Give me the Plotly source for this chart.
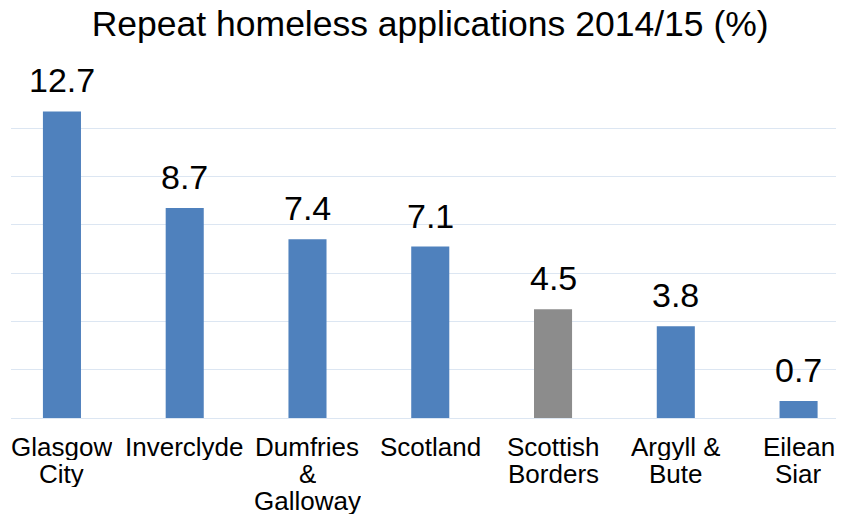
import plotly.graph_objects as go

categories = ["Glasgow City", "Inverclyde", "Dumfries & Galloway", "Scotland",
              "Scottish Borders", "Argyll & Bute", "Eilean Siar"]
label_lines = [["Glasgow", "City"], ["Inverclyde"], ["Dumfries", "&", "Galloway"],
               ["Scotland"], ["Scottish", "Borders"], ["Argyll &", "Bute"], ["Eilean", "Siar"]]
values = [12.7, 8.7, 7.4, 7.1, 4.5, 3.8, 0.7]
colors = ["#4F81BD", "#4F81BD", "#4F81BD", "#4F81BD", "#8C8C8C", "#4F81BD", "#4F81BD"]

FONT = "Liberation Sans, Arial, sans-serif"
xs = list(range(len(categories)))

fig = go.Figure(go.Bar(x=xs, y=values, marker_color=colors, width=0.31,
                       marker_line_width=0, hoverinfo="skip"))

ann = []
for i, v in enumerate(values):
    ann.append(dict(x=i, y=v, xref="x", yref="y", text=f"{v:.1f}", showarrow=False,
                    yanchor="bottom", yshift=10, font=dict(family=FONT, size=34, color="#000")))
for i, lines in enumerate(label_lines):
    for j, t in enumerate(lines):
        ann.append(dict(x=i, y=0, xref="x", yref="y", text=t, showarrow=False,
                        yanchor="top", yshift=-15 - 27 * j, height=26, valign="middle",
                        borderpad=0,
                        font=dict(family=FONT, size=26, color="#000")))

# page body has an 8px margin, so the figure is sized/offset to compensate
fig.update_layout(
    width=836, height=507,
    margin=dict(l=3, r=0, t=72, b=97),
    paper_bgcolor="white", plot_bgcolor="white",
    title=dict(text="Repeat homeless applications 2014/15 (%)", x=0.505, xanchor="center",
               y=1.0, yanchor="top", pad=dict(t=3),
               font=dict(family=FONT, size=35.5, color="#000")),
    xaxis=dict(range=[-0.415, 6.37], showticklabels=False, showgrid=False, zeroline=False,
               fixedrange=True),
    yaxis=dict(range=[0, 14], dtick=2, showticklabels=False, gridcolor="#DCE6F2",
               gridwidth=1, zeroline=True, zerolinecolor="#DCE6F2", zerolinewidth=1),
    annotations=ann,
    showlegend=False,
)
fig.write_html("out.html")
